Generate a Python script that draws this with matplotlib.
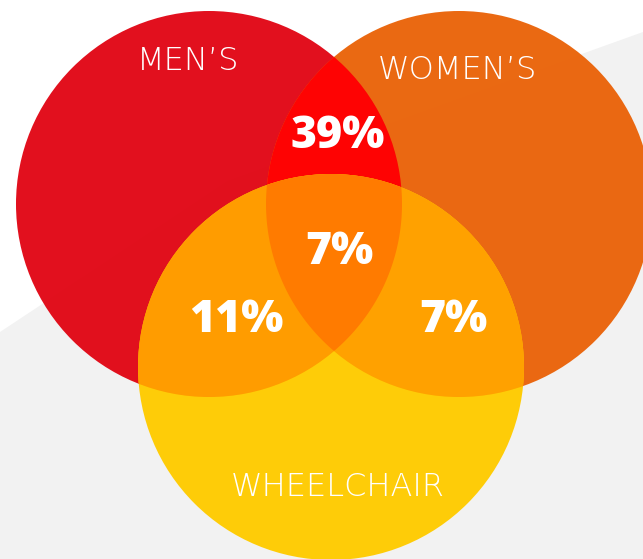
import numpy as np
import matplotlib.pyplot as plt
from matplotlib.patches import Circle, Polygon

# sets and overlap shares
set_names = ["MEN\u2019S", "WOMEN\u2019S", "WHEELCHAIR"]
overlap_labels = ["39%", "7%", "11%", "7%"]  # men&women, all three, men&wheel, women&wheel

# layout (pixel space)
W, H = 643, 559
R = 193
centers = {"men": (209, 204), "women": (459, 204), "wheel": (331, 367)}

colors = {
    "men": "#E10816",
    "women": "#EA640A",
    "wheel": "#FFCB00",
    "men_women": "#FE0303",
    "men_wheel": "#FF9C00",
    "women_wheel": "#FFA100",
    "all": "#FF7B00",
}


def lens(c1, c2, r, n=720):
    t = np.linspace(0, 2 * np.pi, n, endpoint=False)
    pts = []
    for a, b in ((c1, c2), (c2, c1)):
        xs = a[0] + r * np.cos(t)
        ys = a[1] + r * np.sin(t)
        inside = (xs - b[0]) ** 2 + (ys - b[1]) ** 2 <= r ** 2
        pts.append(np.column_stack([xs[inside], ys[inside]]))
    pts = np.vstack(pts)
    m = pts.mean(axis=0)
    order = np.argsort(np.arctan2(pts[:, 1] - m[1], pts[:, 0] - m[0]))
    return pts[order]


fig = plt.figure(figsize=(W / 100, H / 100), dpi=100)
ax = fig.add_axes([0, 0, 1, 1])
ax.set_xlim(0, W)
ax.set_ylim(H, 0)
ax.set_aspect("auto")
ax.axis("off")

# light grey background band
ax.add_patch(Polygon([(0, 332), (228, 181), (W, 32), (W, H), (0, H)],
                     closed=True, facecolor="#F2F2F2", edgecolor="none", zorder=0))

# base circles
base = {}
for key in ("men", "women", "wheel"):
    c = Circle(centers[key], R, facecolor=colors[key], edgecolor="none",
               alpha=0.97, zorder=1)
    ax.add_patch(c)
    base[key] = c

# pairwise overlaps
pairs = [("men", "women", "men_women"), ("men", "wheel", "men_wheel"),
         ("women", "wheel", "women_wheel")]
for a, b, k in pairs:
    p = Circle(centers[a], R, facecolor=colors[k], edgecolor="none", zorder=2)
    ax.add_patch(p)
    p.set_clip_path(base[b])

# triple overlap
tri = Polygon(lens(centers["men"], centers["women"], R), closed=True,
              facecolor=colors["all"], edgecolor="none", zorder=3)
ax.add_patch(tri)
tri.set_clip_path(base["wheel"])

light = dict(color="white", family=["DejaVu Sans"], weight=200,
             fontsize=23, ha="center", va="center", zorder=5)
bold = dict(color="white", family=["Open Sans", "DejaVu Sans"], weight=800,
            fontsize=32, ha="center", va="center", zorder=5)

ax.text(188, 61, set_names[0], **light)
ax.text(457, 70, set_names[1], **light)
ax.text(338, 487, set_names[2], **light)

ax.text(338, 137, overlap_labels[0], **bold)
ax.text(339, 253, overlap_labels[1], **bold)
ax.text(236, 320, overlap_labels[2], **bold)
ax.text(453, 320, overlap_labels[3], **bold)

fig.savefig("out.png", dpi=100, facecolor="white")
